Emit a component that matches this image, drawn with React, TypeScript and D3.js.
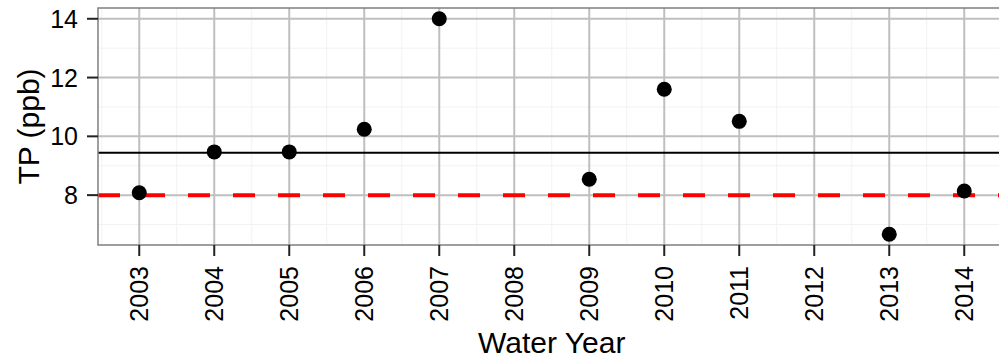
import React from 'react';
import * as d3 from 'd3';

// water year observations (TP in ppb)
const years = [2003, 2004, 2005, 2006, 2007, 2009, 2010, 2011, 2013, 2014];
const tpValues = [8.08, 9.47, 9.47, 10.24, 14.0, 8.54, 11.6, 10.51, 6.67, 8.14];
const xTicks = [2003, 2004, 2005, 2006, 2007, 2008, 2009, 2010, 2011, 2012, 2013, 2014];
const yTicks = [8, 10, 12, 14];
const yMinor = [7, 9, 11, 13];
const meanLine = 9.44;
const targetLine = 8;

const W = 999;
const H = 358;
const panel = { left: 98, top: 8, bottom: 245 };

const App: React.FC = () => {
  // continuous axis with ggplot-like 5% expansion
  const xExtent = d3.extent(xTicks) as [number, number];
  const xPad = (xExtent[1] - xExtent[0]) * 0.05;
  const yExtent = d3.extent(tpValues) as [number, number];
  const yPad = (yExtent[1] - yExtent[0]) * 0.05;

  const x = d3.scaleLinear()
    .domain([xExtent[0] - xPad, xExtent[1] + xPad])
    .range([panel.left, panel.left + 75 * (xExtent[1] - xExtent[0] + 2 * xPad)]);
  const y = d3.scaleLinear()
    .domain([yExtent[0] - yPad, yExtent[1] + yPad])
    .range([panel.bottom, panel.top]);

  const right = x.range()[1];
  const xMinor = xTicks.map(t => t - 0.5).concat([xExtent[1] + 0.5]);
  const font = '"Liberation Sans", Arial, Helvetica, sans-serif';

  return (
    <svg width={W} height={H} style={{ position: 'absolute', left: 0, top: 0, background: '#fff' }} fontFamily={font}>
      <defs>
        <clipPath id="panel-clip">
          <rect x={panel.left} y={panel.top} width={right - panel.left} height={panel.bottom - panel.top} />
        </clipPath>
      </defs>
      <rect x={panel.left} y={panel.top} width={right - panel.left} height={panel.bottom - panel.top} fill="#fff" />
      <g clipPath="url(#panel-clip)">
        {/* minor grid */}
        {xMinor.map(t => (
          <line key={'xm' + t} x1={x(t)} x2={x(t)} y1={panel.top} y2={panel.bottom} stroke="#f2f2f2" strokeWidth={1} />
        ))}
        {yMinor.map(t => (
          <line key={'ym' + t} x1={panel.left} x2={right} y1={y(t)} y2={y(t)} stroke="#f2f2f2" strokeWidth={1} />
        ))}
        {/* major grid */}
        {xTicks.map(t => (
          <line key={'xg' + t} x1={x(t)} x2={x(t)} y1={panel.top} y2={panel.bottom} stroke="#bfbfbf" strokeWidth={2} />
        ))}
        {yTicks.map(t => (
          <line key={'yg' + t} x1={panel.left} x2={right} y1={y(t)} y2={y(t)} stroke="#bfbfbf" strokeWidth={2} />
        ))}
        <line x1={panel.left} x2={right} y1={y(meanLine)} y2={y(meanLine)} stroke="#000" strokeWidth={2} />
        <line x1={panel.left} x2={right} y1={y(targetLine)} y2={y(targetLine)} stroke="#ff0000" strokeWidth={4} strokeDasharray="22 23" />
        {years.map((yr, i) => (
          <circle key={yr} cx={x(yr)} cy={y(tpValues[i])} r={7.5} fill="#000" />
        ))}
      </g>
      <rect x={panel.left} y={panel.top} width={right - panel.left} height={panel.bottom - panel.top} fill="none" stroke="#7f7f7f" strokeWidth={1.5} />

      {/* y axis */}
      {yTicks.map(t => (
        <g key={'yt' + t}>
          <line x1={panel.left - 11} x2={panel.left} y1={y(t)} y2={y(t)} stroke="#222" strokeWidth={2} />
          <text x={panel.left - 20} y={y(t)} dy="0.36em" textAnchor="end" fontSize={25} fill="#000">{t}</text>
        </g>
      ))}
      {/* x axis */}
      {xTicks.map(t => (
        <g key={'xt' + t}>
          <line x1={x(t)} x2={x(t)} y1={panel.bottom} y2={panel.bottom + 11} stroke="#222" strokeWidth={2} />
          <text transform={`translate(${x(t)},${panel.bottom + 21}) rotate(-90)`} dy="0.36em" textAnchor="end" fontSize={25} fill="#000">{t}</text>
        </g>
      ))}
      <text x={(panel.left + right) / 2} y={353} textAnchor="middle" fontSize={30} fill="#000">Water Year</text>
      <text transform={`translate(39,${(panel.top + panel.bottom) / 2}) rotate(-90)`} textAnchor="middle" fontSize={30} fill="#000">TP (ppb)</text>
    </svg>
  );
};

export default App;
